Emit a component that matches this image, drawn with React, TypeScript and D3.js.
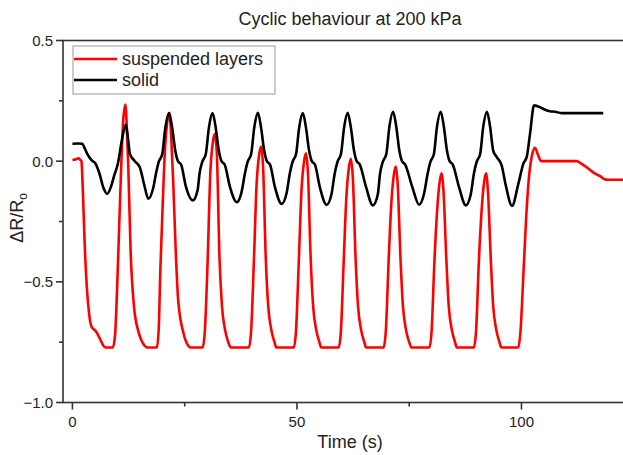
import React from "react";
import * as d3 from "d3";

const W = 623;
const H = 455;

const titleText = "Cyclic behaviour at 200 kPa";
const xLabelText = "Time (s)";
const seriesNames = ["suspended layers", "solid"];
const seriesColors = ["#ff0000", "#000000"];

const xMajorTicks = [0, 50, 100];
const xMinorTicks = [25, 75];
const yMajorTicks = [-1.0, -0.5, 0.0, 0.5];
const yMinorTicks = [-0.75, -0.25, 0.25];

// suspended layers: [time (s), ΔR/Ro]
const suspendedData: [number, number][] = [
  [0, 0.005], [0.8, 0.008], [1.3, 0.012], [1.7, 0.006], [2.0, 0.0], [2.3, -0.11], [2.7, -0.33], [3.2, -0.52],
  [3.7, -0.63], [4.3, -0.688], [5.0, -0.7], [5.4, -0.71], [6.1, -0.735], [6.9, -0.765], [7.4, -0.772], [9.0, -0.772],
  [9.5, -0.72], [10.0, -0.5], [10.6, -0.165], [11.3, 0.167], [11.8, 0.235], [12.15, 0.12], [12.45, -0.03],
  [12.95, -0.37], [13.7, -0.6], [14.6, -0.7], [15.3, -0.74], [16.1, -0.765], [16.6, -0.772], [18.8, -0.772],
  [19.2, -0.7], [19.6, -0.44], [20.1, -0.18], [20.6, 0.044], [21.1, 0.16], [21.6, 0.2], [22.0, 0.1],
  [22.45, -0.09], [23.0, -0.37], [23.55, -0.577], [24.7, -0.71], [25.8, -0.765], [26.3, -0.772], [29.0, -0.772],
  [29.5, -0.7], [30.1, -0.42], [30.7, -0.05], [31.25, 0.075], [31.7, 0.113], [32.15, 0.035], [32.75, -0.4],
  [33.3, -0.6], [34.0, -0.7], [34.7, -0.75], [35.3, -0.772], [39.3, -0.772],
  [39.8, -0.7], [40.4, -0.42], [41.0, -0.1], [41.55, 0.023], [42.0, 0.061], [42.45, -0.02], [43.05, -0.4],
  [43.6, -0.6], [44.3, -0.7], [45.0, -0.75], [45.4, -0.772], [49.3, -0.772],
  [49.8, -0.7], [50.4, -0.42], [51.0, -0.125], [51.55, -0.005], [52.0, 0.033], [52.45, -0.05], [53.05, -0.4],
  [53.6, -0.6], [54.3, -0.7], [55.0, -0.75], [55.4, -0.772], [59.3, -0.772],
  [59.8, -0.7], [60.4, -0.42], [61.0, -0.15], [61.55, -0.03], [62.0, 0.01], [62.45, -0.07], [63.05, -0.4],
  [63.6, -0.6], [64.3, -0.7], [65.0, -0.75], [65.4, -0.772], [69.3, -0.772],
  [69.8, -0.7], [70.4, -0.42], [71.0, -0.18], [71.55, -0.06], [72.0, -0.022], [72.45, -0.1], [73.05, -0.4],
  [73.6, -0.6], [74.3, -0.7], [75.0, -0.75], [75.5, -0.772], [79.5, -0.772],
  [80.0, -0.7], [80.6, -0.42], [81.2, -0.21], [81.75, -0.09], [82.2, -0.05], [82.65, -0.13], [83.25, -0.4],
  [83.8, -0.6], [84.5, -0.7], [85.2, -0.75], [85.6, -0.772], [89.4, -0.772],
  [89.9, -0.7], [90.5, -0.42], [91.1, -0.21], [91.65, -0.09], [92.1, -0.05], [92.55, -0.13], [93.15, -0.4],
  [93.7, -0.6], [94.4, -0.7], [95.1, -0.75], [95.5, -0.772], [99.3, -0.772],
  [99.8, -0.7], [100.4, -0.48], [101.0, -0.25], [101.6, -0.08], [102.3, 0.02], [103.0, 0.055], [103.6, 0.03],
  [104.4, 0.0], [112.3, 0.0], [113.3, -0.01], [114.5, -0.025], [115.5, -0.04], [116.4, -0.052],
  [117.5, -0.062], [118.5, -0.075], [119.2, -0.077], [124, -0.077],
];

// solid: [time (s), ΔR/Ro]
const solidData: [number, number][] = [
  [0, 0.072], [1.2, 0.073], [2.2, 0.072], [2.7, 0.055], [3.3, 0.03], [4.3, 0.003], [5.2, -0.012], [6.0, -0.05],
  [6.9, -0.11], [7.75, -0.135], [8.6, -0.105], [9.2, -0.066], [10.2, -0.003], [11.0, 0.086], [11.9, 0.152],
  [12.4, 0.09], [12.8, 0.03], [13.9, 0.0], [15.0, -0.025], [16.1, -0.107], [16.9, -0.156],
  [18.0, -0.11], [18.6, -0.052], [19.2, -0.004], [20.0, 0.03], [20.7, 0.14], [21.5, 0.199], [22.2, 0.14],
  [22.9, 0.044], [23.5, 0.0], [24.2, -0.014], [25.3, -0.108], [26.8, -0.163],
  [27.9, -0.118], [28.3, -0.052], [28.9, -0.004], [29.7, 0.03], [30.4, 0.14], [31.2, 0.199], [31.9, 0.14],
  [32.6, 0.044], [33.2, 0.0], [33.9, -0.014], [35.1, -0.108], [36.6, -0.17],
  [37.7, -0.125], [38.4, -0.052], [39.0, -0.004], [39.8, 0.03], [40.5, 0.14], [41.3, 0.2], [42.0, 0.14],
  [42.7, 0.044], [43.3, 0.0], [44.0, -0.014], [45.1, -0.108], [46.6, -0.177],
  [47.7, -0.132], [48.4, -0.052], [49.0, -0.004], [49.8, 0.03], [50.5, 0.14], [51.3, 0.199], [52.0, 0.14],
  [52.7, 0.044], [53.3, 0.0], [54.0, -0.014], [55.1, -0.108], [56.6, -0.181],
  [57.7, -0.136], [58.4, -0.052], [59.0, -0.004], [59.8, 0.03], [60.5, 0.14], [61.3, 0.2], [62.0, 0.14],
  [62.7, 0.044], [63.3, 0.0], [64.0, -0.014], [65.4, -0.108], [66.9, -0.183],
  [68.0, -0.138], [68.5, -0.052], [69.1, -0.004], [69.9, 0.03], [70.6, 0.145], [71.4, 0.205], [72.1, 0.145],
  [72.8, 0.044], [73.4, 0.0], [74.1, -0.014], [75.7, -0.108], [77.2, -0.18],
  [78.3, -0.135], [79.1, -0.052], [79.7, -0.004], [80.5, 0.03], [81.2, 0.145], [82.0, 0.205], [82.7, 0.145],
  [83.4, 0.044], [84.0, 0.0], [84.7, -0.014], [86.1, -0.108], [87.6, -0.183],
  [88.7, -0.138], [89.4, -0.052], [90.0, -0.004], [90.8, 0.03], [91.5, 0.145], [92.3, 0.205], [93.0, 0.145],
  [93.7, 0.044], [94.5, 0.017], [95.6, -0.018], [96.5, -0.1], [97.9, -0.185],
  [99.3, -0.094], [100.4, -0.011], [101.2, 0.02], [101.9, 0.113], [102.8, 0.231], [104.1, 0.224],
  [105.0, 0.215], [106.3, 0.207], [107.5, 0.205], [108.9, 0.199], [118.2, 0.199],
];

const FONT = "'Liberation Sans', Arial, sans-serif";

export default function App() {
  const left = 63;
  const right = 629.7;
  const top = 40.5;
  const bottom = 402.5;

  const x = d3.scaleLinear().domain([-2.1, 124.1]).range([left, right]);
  const y = d3.scaleLinear().domain([-1.0, 0.5]).range([bottom, top]);

  const line = d3
    .line<[number, number]>()
    .x((d) => x(d[0]))
    .y((d) => y(d[1]))
    .curve(d3.curveMonotoneX);

  const axisColor = "#333";
  const textColor = "#222";

  return (
    <svg width={W} height={H} style={{ display: "block", position: "absolute", left: 0, top: 0, background: "#fff" }}>
      <defs>
        <clipPath id="plotClip">
          <rect x={left} y={top} width={right - left} height={bottom - top} />
        </clipPath>
      </defs>
      <rect x={0} y={0} width={W} height={H} fill="#fff" />
      <text x={350} y={25} textAnchor="middle" fontFamily={FONT} fontSize={18} fill={textColor}>
        {titleText}
      </text>

      <g clipPath="url(#plotClip)">
        <path d={line(suspendedData) || ""} fill="none" stroke={seriesColors[0]} strokeWidth={2.6} strokeLinejoin="round" />
        <path d={line(solidData) || ""} fill="none" stroke={seriesColors[1]} strokeWidth={2.6} strokeLinejoin="round" />
      </g>

      {/* frame */}
      <rect x={left} y={top} width={right - left} height={bottom - top} fill="none" stroke={axisColor} strokeWidth={1.6} />

      {/* y ticks */}
      {yMajorTicks.map((t) => (
        <g key={"ym" + t}>
          <line x1={left - 7} x2={left} y1={y(t)} y2={y(t)} stroke={axisColor} strokeWidth={1.6} />
          <text x={left - 10} y={y(t) + 5.5} textAnchor="end" fontFamily={FONT} fontSize={15} fill={textColor}>
            {d3.format(".1f")(t)}
          </text>
        </g>
      ))}
      {yMinorTicks.map((t) => (
        <line key={"yn" + t} x1={left - 4} x2={left} y1={y(t)} y2={y(t)} stroke={axisColor} strokeWidth={1.6} />
      ))}

      {/* x ticks */}
      {xMajorTicks.map((t) => (
        <g key={"xm" + t}>
          <line x1={x(t)} x2={x(t)} y1={bottom} y2={bottom + 7} stroke={axisColor} strokeWidth={1.6} />
          <text x={x(t)} y={bottom + 24} textAnchor="middle" fontFamily={FONT} fontSize={15} fill={textColor}>
            {d3.format("d")(t)}
          </text>
        </g>
      ))}
      {xMinorTicks.map((t) => (
        <line key={"xn" + t} x1={x(t)} x2={x(t)} y1={bottom} y2={bottom + 4} stroke={axisColor} strokeWidth={1.6} />
      ))}

      {/* axis labels */}
      <text x={350} y={448} textAnchor="middle" fontFamily={FONT} fontSize={18} fill={textColor}>
        {xLabelText}
      </text>
      <text transform="translate(23,218) rotate(-90)" textAnchor="middle" fontFamily={FONT} fontSize={18} fill={textColor}>
        ΔR/R<tspan fontSize={12} dy={4}>o</tspan>
      </text>

      {/* legend */}
      <rect x={73} y={46} width={202} height={48} fill="#fff" stroke="#999" strokeWidth={1} />
      {seriesNames.map((name, i) => (
        <g key={name}>
          <line x1={74} x2={117} y1={59 + i * 21} y2={59 + i * 21} stroke={seriesColors[i]} strokeWidth={2.6} />
          <text x={122} y={65 + i * 21} fontFamily={FONT} fontSize={18} fill={textColor}>
            {name}
          </text>
        </g>
      ))}
    </svg>
  );
}
